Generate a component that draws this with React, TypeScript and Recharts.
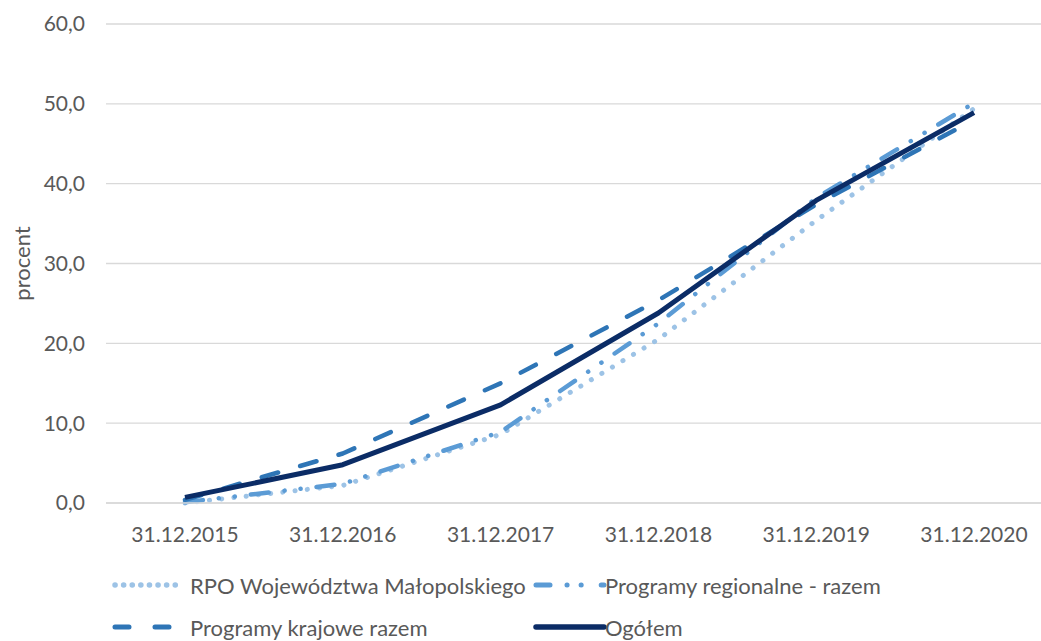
import React from "react";
import { LineChart, Line, XAxis, YAxis, CartesianGrid } from "recharts";

const categories = ["31.12.2015", "31.12.2016", "31.12.2017", "31.12.2018", "31.12.2019", "31.12.2020"];
const rpo = [0.0, 2.2, 8.6, 20.5, 35.4, 49.4];
const regionalne = [0.1, 2.4, 8.9, 22.5, 38.2, 50.1];
const krajowe = [0.4, 6.2, 15.0, 25.4, 37.4, 48.0];
const ogolem = [0.7, 4.8, 12.3, 23.8, 37.9, 48.9];
const yTicks = [0, 10, 20, 30, 40, 50, 60];

const FONT = "Lato, 'Open Sans', sans-serif";
const TEXT = "#595959";

const series = [
  { key: "rpo", name: "RPO Województwa Małopolskiego", color: "#9DC3E6", width: 5, dash: "0.1 12.2" },
  { key: "regionalne", name: "Programy regionalne - razem", color: "#5B9BD5", width: 4.5, dash: "18 16 0.1 16 0.1 16" },
  { key: "krajowe", name: "Programy krajowe razem", color: "#2E75B6", width: 4.5, dash: "17 23" },
  { key: "ogolem", name: "Ogółem", color: "#0B2C66", width: 5, dash: undefined as string | undefined },
];

const data = categories.map((c, i) => ({
  cat: c,
  rpo: rpo[i],
  regionalne: regionalne[i],
  krajowe: krajowe[i],
  ogolem: ogolem[i],
}));

// legend layout: [left of icon, top center]
const legendPos = [
  { x: 112, y: 585 },
  { x: 533, y: 585 },
  { x: 112, y: 627 },
  { x: 533, y: 627 },
];

function YLabel(props: any) {
  const vb = props.viewBox || {};
  const cy = vb.y + vb.height / 2;
  return (
    <text
      x={21}
      y={cy}
      transform={`rotate(-90 21 ${cy})`}
      textAnchor="middle"
      dominantBaseline="central"
      fill={TEXT}
      fontSize={22}
      fontFamily={FONT}
    >
      procent
    </text>
  );
}

export default function App() {
  return (
    <div
      style={{
        position: "absolute",
        left: 0,
        top: 0,
        width: 1041,
        height: 641,
        overflow: "hidden",
        background: "#fff",
        fontFamily: FONT,
      }}
    >
      <LineChart
        width={1060}
        height={560}
        data={data}
        margin={{ top: 24, right: 7, left: 0, bottom: 17 }}
      >
        <CartesianGrid vertical={false} stroke="#D9D9D9" strokeWidth={1.3} />
        <XAxis
          dataKey="cat"
          padding={{ left: 79, right: 79 }}
          height={40}
          tickLine={false}
          axisLine={{ stroke: "#D9D9D9", strokeWidth: 1.3 }}
          tickMargin={18}
          tick={{ fill: TEXT, fontSize: 21, fontFamily: FONT }}
          interval={0}
        />
        <YAxis
          width={106}
          domain={[0, 60]}
          ticks={yTicks}
          tickFormatter={(v: number) => v.toFixed(1).replace(".", ",")}
          tickLine={false}
          axisLine={false}
          tickMargin={15}
          tick={{ fill: TEXT, fontSize: 21, fontFamily: FONT }}
          label={<YLabel />}
        />
        {series.map((s) => (
          <Line
            key={s.key}
            type="linear"
            dataKey={s.key}
            name={s.name}
            stroke={s.color}
            strokeWidth={s.width}
            strokeDasharray={s.dash}
            strokeLinecap={s.dash ? "round" : "butt"}
            strokeLinejoin="round"
            dot={false}
            activeDot={false}
            isAnimationActive={false}
          />
        ))}
      </LineChart>
      {series.map((s, i) => (
        <div
          key={s.key}
          style={{
            position: "absolute",
            left: legendPos[i].x,
            top: legendPos[i].y - 15,
            height: 30,
            display: "flex",
            alignItems: "center",
            whiteSpace: "nowrap",
            color: TEXT,
            fontSize: 22,
          }}
        >
          <svg width={74} height={12} style={{ marginRight: 4 }}>
            <line
              x1={3}
              x2={i === 1 || i === 3 ? 71 : 64}
              y1={6}
              y2={6}
              stroke={s.color}
              strokeWidth={s.width + 0.5}
              strokeDasharray={
                i === 0 ? "0.1 8.5" : i === 1 ? "14 17 0.1 14 0.1 20" : i === 2 ? "14 26" : undefined
              }
              strokeLinecap="round"
            />
          </svg>
          <span style={{ marginLeft: i === 0 || i === 2 ? 0 : -6 }}>{s.name}</span>
        </div>
      ))}
    </div>
  );
}
